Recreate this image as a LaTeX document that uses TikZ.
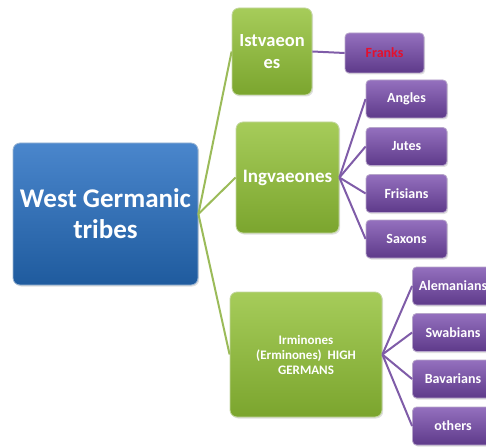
\documentclass[tikz,border=0pt]{standalone}
\usepackage{fontspec}
\setmainfont{Carlito}
\usetikzlibrary{shadows}
\definecolor{RootTop}{HTML}{4A86CC}
\definecolor{RootBot}{HTML}{1F5B9E}
\definecolor{GrpTop}{HTML}{A6CC5A}
\definecolor{GrpBot}{HTML}{7BA52E}
\definecolor{LeafTop}{HTML}{9470BE}
\definecolor{LeafBot}{HTML}{5E3A8A}
\definecolor{GreenLine}{HTML}{9BBB59}
\definecolor{PurpleLine}{HTML}{7F5CA8}
\definecolor{FrankRed}{HTML}{E3102E}

\begin{document}
\begin{tikzpicture}[
    x=1pt, y=-1pt,
    font=\bfseries,
    box/.style={rounded corners=7pt, draw=white!55!#1, line width=0.8pt, align=center, text=white,
      inner sep=2pt, drop shadow={opacity=0.25, shadow xshift=1.2pt, shadow yshift=-1.5pt}},
    rootbox/.style={box=RootBot, top color=RootTop, bottom color=RootBot, minimum width=185pt, minimum height=142pt,
      font=\bfseries\fontsize{27}{31}\selectfont},
    grpbox/.style={box=GrpBot, top color=GrpTop, bottom color=GrpBot, font=\bfseries\fontsize{#1}{#1}\selectfont},
    leafbox/.style={box=LeafBot, rounded corners=4pt, top color=LeafTop, bottom color=LeafBot, minimum width=81pt,
      minimum height=38pt, font=\bfseries\fontsize{14}{16}\selectfont},
    grpline/.style={GreenLine, line width=2pt},
    leafline/.style={PurpleLine, line width=2pt}
  ]
    \useasboundingbox (0,0) rectangle (486,446);
    \clip (0,0) rectangle (486,446);

    \node[rootbox] (root) at (105.5,214) {West Germanic\\tribes};
    \node[grpbox=18.5, minimum width=80pt, minimum height=87pt] (istv) at (272,51.5) {Istvaeon\\[3pt]es};
    \node[grpbox=19, minimum width=103pt, minimum height=111pt] (ingv) at (287.5,177.5) {Ingvaeones};
    \node[grpbox=13, minimum width=152pt, minimum height=125pt] (irm) at (306,354.5) {Irminones\\[2pt](Erminones)~~HIGH\\[2pt]GERMANS};

    \node[leafbox, minimum width=79pt, minimum height=40pt, text=FrankRed] (franks) at (384.5,53) {Franks};
    \node[leafbox] (angles) at (406.5,99) {Angles};
    \node[leafbox] (jutes) at (406.5,146.5) {Jutes};
    \node[leafbox] (frisians) at (406.5,193.5) {Frisians};
    \node[leafbox] (saxons) at (406.5,239) {Saxons};
    \node[leafbox] (aleman) at (453,286) {Alemanians};
    \node[leafbox] (swab) at (453,332.5) {Swabians};
    \node[leafbox] (bav) at (453,379) {Bavarians};
    \node[leafbox] (others) at (453,426) {others};

    \draw[grpline] (root.east) -- (istv.west);
    \draw[grpline] (root.east) -- (ingv.west);
    \draw[grpline] (root.east) -- (irm.west);
    \draw[leafline] (istv.east) -- (franks.west);
    \draw[leafline] (ingv.east) -- (angles.west);
    \draw[leafline] (ingv.east) -- (jutes.west);
    \draw[leafline] (ingv.east) -- (frisians.west);
    \draw[leafline] (ingv.east) -- (saxons.west);
    \draw[leafline] (irm.east) -- (aleman.west);
    \draw[leafline] (irm.east) -- (swab.west);
    \draw[leafline] (irm.east) -- (bav.west);
    \draw[leafline] (irm.east) -- (others.west);
  \end{tikzpicture}
\end{document}
